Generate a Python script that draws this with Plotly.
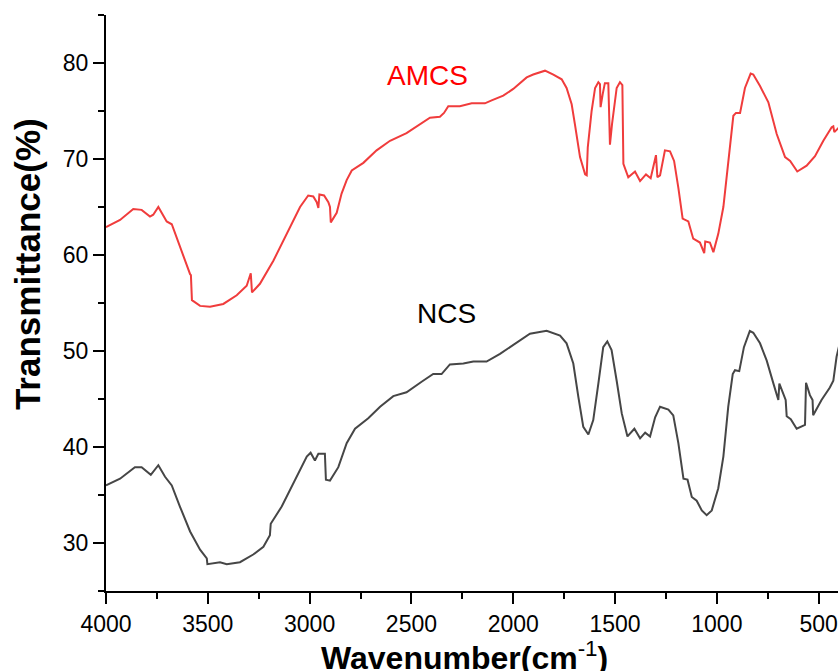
import plotly.graph_objects as go

# AMCS spectrum (wavenumber cm-1, transmittance %)
amcs_wn = [4000, 3931, 3866, 3825, 3784, 3768, 3743, 3727, 3702, 3677, 3637, 3587, 3583, 3578,
           3538, 3489, 3424, 3358, 3309, 3289, 3283, 3244, 3178, 3113, 3047, 3007, 2982, 2965,
           2957, 2952, 2929, 2908, 2900, 2896, 2867, 2843, 2818, 2793, 2736, 2671, 2605, 2524,
           2458, 2409, 2360, 2340, 2319, 2262, 2204, 2139, 2106, 2049, 2000, 1967, 1934, 1902,
           1844, 1803, 1762, 1738, 1713, 1697, 1672, 1647, 1639, 1634, 1615, 1598, 1582, 1574,
           1571, 1561, 1550, 1533, 1525, 1515, 1492, 1476, 1464, 1459, 1435, 1402, 1377, 1348,
           1325, 1299, 1292, 1279, 1255, 1230, 1210, 1189, 1168, 1140, 1116, 1083, 1062, 1057,
           1034, 1017, 993, 968, 944, 919, 906, 886, 862, 834, 821, 788, 747, 706, 665, 640,
           605, 559, 518, 477, 436, 428, 423, 408, 400]
amcs_t = [62.9, 63.65, 64.8, 64.7, 64.0, 64.2, 65.0, 64.4, 63.5, 63.2, 60.8, 58.0, 57.9, 55.3,
          54.7, 54.6, 54.9, 55.8, 56.8, 58.1, 56.1, 57.0, 59.4, 62.2, 65.0, 66.2, 66.1, 65.5,
          64.9, 66.3, 66.2, 65.5, 65.0, 63.4, 64.4, 66.4, 67.8, 68.8, 69.6, 70.9, 71.9, 72.7,
          73.6, 74.3, 74.4, 74.8, 75.5, 75.5, 75.8, 75.8, 76.1, 76.6, 77.3, 77.9, 78.5, 78.8,
          79.2, 78.8, 78.3, 77.4, 75.7, 73.6, 70.2, 68.4, 68.3, 71.2, 75.0, 77.4, 78.0, 77.8,
          75.4, 76.7, 77.9, 77.9, 71.5, 73.6, 77.4, 78.0, 77.7, 69.5, 68.1, 68.7, 67.7, 68.4,
          68.0, 70.4, 68.1, 68.3, 70.9, 70.8, 69.8, 67.0, 63.8, 63.5, 61.7, 61.3, 60.2, 61.4,
          61.3, 60.3, 62.2, 65.0, 69.8, 74.5, 74.8, 74.8, 77.4, 78.9, 78.8, 77.6, 75.9, 72.6,
          70.2, 69.8, 68.7, 69.3, 70.3, 71.9, 73.3, 73.4, 72.8, 73.1, 73.3]

# NCS spectrum
ncs_wn = [4000, 3931, 3858, 3825, 3780, 3743, 3710, 3677, 3637, 3587, 3538, 3505, 3502, 3440,
          3407, 3342, 3277, 3227, 3195, 3191, 3137, 3064, 3014, 2995, 2974, 2957, 2925, 2920,
          2900, 2859, 2818, 2777, 2712, 2654, 2589, 2524, 2462, 2450, 2393, 2352, 2311, 2245,
          2196, 2131, 2065, 2016, 1967, 1918, 1836, 1812, 1770, 1738, 1705, 1680, 1656, 1631,
          1607, 1582, 1558, 1538, 1517, 1492, 1467, 1439, 1405, 1377, 1352, 1328, 1303, 1279,
          1238, 1214, 1189, 1164, 1144, 1123, 1099, 1074, 1050, 1025, 993, 968, 944, 922, 911,
          890, 867, 838, 821, 788, 755, 722, 698, 693, 673, 662, 657, 637, 608, 567, 562, 543,
          530, 527, 486, 445, 428, 412, 400]
ncs_t = [36.0, 36.7, 37.9, 37.9, 37.1, 38.1, 36.9, 36.0, 33.8, 31.2, 29.3, 28.4, 27.8, 28.0,
         27.8, 28.0, 28.8, 29.6, 30.8, 32.0, 33.8, 36.9, 39.0, 39.4, 38.6, 39.3, 39.3, 36.6,
         36.5, 37.9, 40.4, 41.9, 43.0, 44.2, 45.3, 45.7, 46.7, 46.8, 47.6, 47.6, 48.6, 48.7,
         48.9, 48.9, 49.7, 50.4, 51.1, 51.8, 52.1, 51.9, 51.6, 50.8, 48.7, 45.2, 42.1, 41.3,
         42.8, 46.6, 50.4, 51.0, 50.1, 46.9, 43.5, 41.1, 41.9, 40.9, 41.5, 41.1, 43.1, 44.2,
         43.9, 43.3, 40.4, 36.7, 36.6, 34.8, 34.4, 33.4, 32.9, 33.4, 35.7, 39.0, 44.2, 47.6, 48.0,
         47.9, 50.4, 52.1, 51.9, 50.8, 49.0, 46.6, 44.9, 46.6, 45.4, 44.9, 43.2, 42.9, 41.9, 42.3,
         46.7, 45.4, 44.9, 43.3, 44.9, 46.2, 46.9, 49.4, 50.5]

x_ticks = [4000, 3500, 3000, 2500, 2000, 1500, 1000, 500]
y_ticks = [30, 40, 50, 60, 70, 80]

FONT = "Liberation Sans, Arial, sans-serif"

fig = go.Figure()
fig.add_trace(go.Scatter(x=amcs_wn, y=amcs_t, mode="lines", name="AMCS",
                         line=dict(color="rgb(240,60,60)", width=2)))
fig.add_trace(go.Scatter(x=ncs_wn, y=ncs_t, mode="lines", name="NCS",
                         line=dict(color="rgb(70,70,70)", width=2)))

fig.add_annotation(x=2419, y=78.7, xref="x", yref="y", text="AMCS", showarrow=False,
                   font=dict(family=FONT, size=28, color="#ff0000"))
fig.add_annotation(x=2327, y=53.9, xref="x", yref="y", text="NCS", showarrow=False,
                   font=dict(family=FONT, size=28, color="#000000"))

fig.add_annotation(x=0.49, y=-0.113, xref="paper", yref="paper", xanchor="center",
                   yanchor="middle",
                   text="<b>Wavenumber(cm</b><sup>-1</sup><b>)</b>", showarrow=False,
                   font=dict(family=FONT, size=32, color="#000000"))
fig.add_annotation(x=-0.107, y=0.567, xref="paper", yref="paper", xanchor="center",
                   yanchor="middle", textangle=-90,
                   text="<b>Transmittance(%)</b>", showarrow=False,
                   font=dict(family=FONT, size=35, color="#000000"))

axis_common = dict(showline=True, linecolor="black", linewidth=2, ticks="outside",
                   ticklen=11, tickwidth=2, tickcolor="black", showgrid=False, zeroline=False,
                   tickfont=dict(family=FONT, size=23, color="black"))

fig.update_xaxes(range=[4000, 405], tickvals=x_ticks, **axis_common,
                 minor=dict(ticks="outside", ticklen=6, tickwidth=2, tickcolor="black",
                            dtick=250, tick0=0, showgrid=False))
fig.update_yaxes(range=[25, 85], tickvals=y_ticks, **axis_common,
                 minor=dict(ticks="outside", ticklen=6, tickwidth=2, tickcolor="black",
                            dtick=5, tick0=0, showgrid=False))

fig.update_layout(width=838, height=671, margin=dict(l=106, r=0, t=15, b=80),
                  plot_bgcolor="white", paper_bgcolor="white", showlegend=False)

fig.write_html("out.html")
